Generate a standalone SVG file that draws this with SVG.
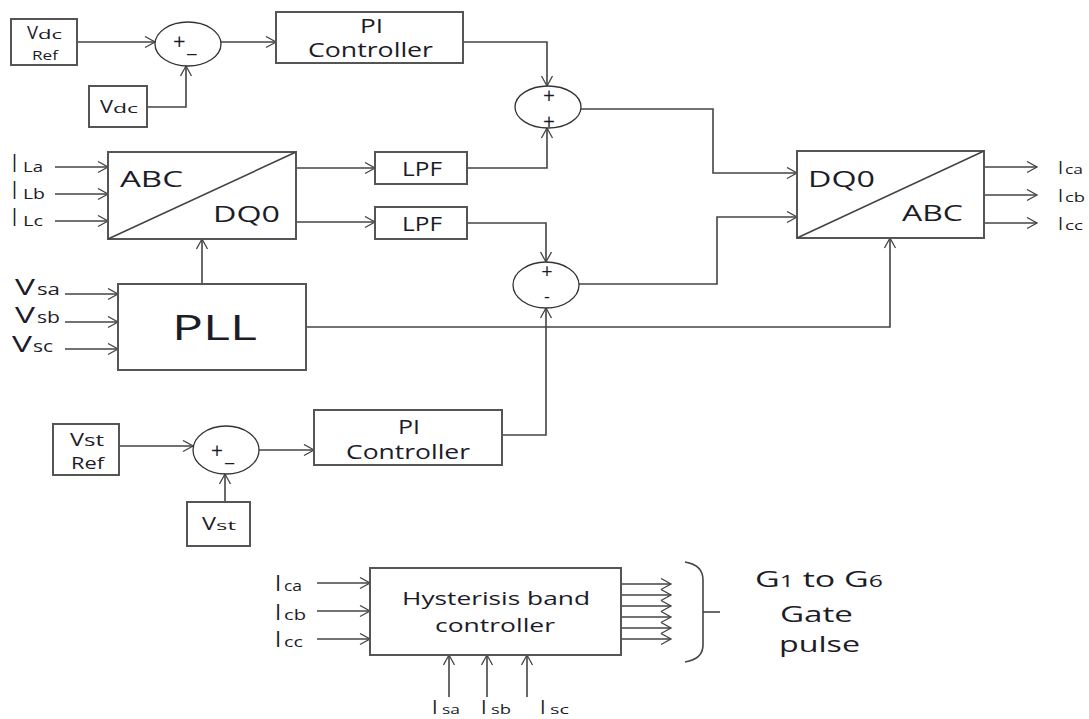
<svg xmlns="http://www.w3.org/2000/svg" width="1089" height="719" viewBox="0 0 1089 719">
<defs>
<marker id="arr" markerUnits="userSpaceOnUse" markerWidth="14" markerHeight="14" refX="11" refY="6" orient="auto">
<path d="M1,0.5 L11,6 L1,11.5" fill="none" stroke="#444" stroke-width="1.3"/>
</marker>
<style>
.bx{fill:#fff;stroke:#555;stroke-width:2}
.el{fill:#fff;stroke:#333;stroke-width:1.3}
.ln{fill:none;stroke:#444;stroke-width:1.6}
.la{fill:none;stroke:#444;stroke-width:1.6;marker-end:url(#arr)}
text{font-family:"Open Sans","Liberation Sans",sans-serif;fill:#1c1c28}
.c{text-anchor:middle}
</style>
</defs>
<rect width="1089" height="719" fill="#fff"/>

<g id="connectors">
<path class="la" d="M77,42 H155"/>
<path class="la" d="M147,107 H186 V66"/>
<path class="la" d="M220,42 H276"/>
<path class="la" d="M463,42 H547 V86"/>
<path class="la" d="M467,168 H547 V128"/>
<path class="la" d="M296,168 H375"/>
<path class="la" d="M296,222 H375"/>
<path class="la" d="M467,223 H546 V262"/>
<path class="la" d="M502,435 H546 V308"/>
<path class="la" d="M202,284 V239"/>
<path class="la" d="M306,327 H890 V238"/>
<path class="la" d="M581,109 H713 V173 H797"/>
<path class="la" d="M579,284 H717 V217 H797"/>
<path class="la" d="M984,167 H1037"/>
<path class="la" d="M984,195 H1037"/>
<path class="la" d="M984,223 H1037"/>
<path class="la" d="M55,167 H108"/>
<path class="la" d="M55,194 H108"/>
<path class="la" d="M55,221 H108"/>
<path class="la" d="M65,294 H118"/>
<path class="la" d="M65,322 H118"/>
<path class="la" d="M65,349 H118"/>
<path class="la" d="M119,446 H193"/>
<path class="la" d="M259,450 H314"/>
<path class="la" d="M225,502 V474"/>
<path class="la" d="M317,583 H370"/>
<path class="la" d="M317,611 H370"/>
<path class="la" d="M317,639 H370"/>
<path class="la" d="M449,697 V655"/>
<path class="la" d="M487,697 V655"/>
<path class="la" d="M527,697 V655"/>
<path class="la" d="M621,584 H671"/>
<path class="la" d="M621,595 H671"/>
<path class="la" d="M621,606 H671"/>
<path class="la" d="M621,617 H671"/>
<path class="la" d="M621,628 H671"/>
<path class="la" d="M621,639 H671"/>
<path class="ln" d="M685,562 Q703,565 703,580 V645 Q703,659 685,662"/>
<path class="ln" d="M703,612 H720"/>
</g>

<g id="vdc_ref">
<rect class="bx" x="11" y="19" width="66" height="46"/>
<text x="27" y="39" font-size="18" textLength="11" lengthAdjust="spacingAndGlyphs">V</text>
<text x="38" y="39" font-size="13" textLength="24" lengthAdjust="spacingAndGlyphs">dc</text>
<text x="32" y="60" font-size="13" textLength="26" lengthAdjust="spacingAndGlyphs">Ref</text>
</g>
<g id="vdc">
<rect class="bx" x="89" y="86" width="58" height="41"/>
<text x="100" y="113" font-size="18" textLength="13" lengthAdjust="spacingAndGlyphs">V</text>
<text x="113" y="113" font-size="13" textLength="25" lengthAdjust="spacingAndGlyphs">dc</text>
</g>
<g id="sum1">
<ellipse class="el" cx="188" cy="44" rx="33" ry="22"/>
<text x="173" y="49" font-size="22">+</text>
<text x="187" y="52" font-size="22">_</text>
</g>
<g id="pi1">
<rect class="bx" x="276" y="12" width="187" height="51"/>
<text x="360" y="33" font-size="20" textLength="23" lengthAdjust="spacingAndGlyphs">PI</text>
<text x="308" y="57" font-size="20" textLength="125" lengthAdjust="spacingAndGlyphs">Controller</text>
</g>
<g id="sum2">
<ellipse class="el" cx="548" cy="107" rx="33" ry="21"/>
<text class="c" x="549" y="103" font-size="21">+</text>
<text class="c" x="549" y="129" font-size="21">+</text>
</g>
<g id="abc_dq0">
<rect class="bx" x="108" y="152" width="188" height="87"/>
<path class="ln" d="M108,239 L296,152"/>
<text x="120" y="187" font-size="21" textLength="63" lengthAdjust="spacingAndGlyphs">ABC</text>
<text x="213" y="222" font-size="21" textLength="67" lengthAdjust="spacingAndGlyphs">DQ0</text>
</g>
<g id="lpf1">
<rect class="bx" x="375" y="152" width="92" height="32"/>
<text x="402" y="176" font-size="20" textLength="40" lengthAdjust="spacingAndGlyphs">LPF</text>
</g>
<g id="lpf2">
<rect class="bx" x="375" y="207" width="92" height="32"/>
<text x="402" y="231" font-size="20" textLength="40" lengthAdjust="spacingAndGlyphs">LPF</text>
</g>
<g id="sum3">
<ellipse class="el" cx="546" cy="285" rx="33" ry="23"/>
<text class="c" x="547" y="278" font-size="20">+</text>
<text class="c" x="547" y="303" font-size="18">-</text>
</g>
<g id="pll">
<rect class="bx" x="118" y="284" width="188" height="86"/>
<text x="172" y="340" font-size="35" textLength="85" lengthAdjust="spacingAndGlyphs">PLL</text>
</g>
<g id="dq0_abc">
<rect class="bx" x="797" y="151" width="187" height="87"/>
<path class="ln" d="M797,238 L984,151"/>
<text x="808" y="187" font-size="21" textLength="67" lengthAdjust="spacingAndGlyphs">DQ0</text>
<text x="902" y="221" font-size="21" textLength="61" lengthAdjust="spacingAndGlyphs">ABC</text>
</g>
<g id="vst_ref">
<rect class="bx" x="53" y="424" width="66" height="51"/>
<text x="70" y="446" font-size="19" textLength="14" lengthAdjust="spacingAndGlyphs">V</text>
<text x="84" y="446" font-size="16" textLength="20" lengthAdjust="spacingAndGlyphs">st</text>
<text x="71" y="469" font-size="17" textLength="33" lengthAdjust="spacingAndGlyphs">Ref</text>
</g>
<g id="sum4">
<ellipse class="el" cx="226" cy="450" rx="33" ry="24"/>
<text x="211" y="458" font-size="21">+</text>
<text x="225" y="461" font-size="21">_</text>
</g>
<g id="vst">
<rect class="bx" x="187" y="502" width="63" height="44"/>
<text x="202" y="530" font-size="19" textLength="14" lengthAdjust="spacingAndGlyphs">V</text>
<text x="216" y="530" font-size="13" textLength="20" lengthAdjust="spacingAndGlyphs">st</text>
</g>
<g id="pi2">
<rect class="bx" x="314" y="410" width="188" height="55"/>
<text x="398" y="434" font-size="20" textLength="22" lengthAdjust="spacingAndGlyphs">PI</text>
<text x="346" y="459" font-size="20" textLength="124" lengthAdjust="spacingAndGlyphs">Controller</text>
</g>
<g id="hysteresis">
<rect class="bx" x="370" y="568" width="251" height="87"/>
<text x="402" y="605" font-size="18" textLength="188" lengthAdjust="spacingAndGlyphs">Hysterisis band</text>
<text x="435" y="632" font-size="18" textLength="120" lengthAdjust="spacingAndGlyphs">controller</text>
</g>

<g id="labels">
<text x="12" y="172" font-size="25" textLength="5" lengthAdjust="spacingAndGlyphs">I</text>
<text x="23" y="172" font-size="15" textLength="20" lengthAdjust="spacingAndGlyphs">La</text>
<text x="12" y="199" font-size="25" textLength="5" lengthAdjust="spacingAndGlyphs">I</text>
<text x="23" y="199" font-size="15" textLength="22" lengthAdjust="spacingAndGlyphs">Lb</text>
<text x="12" y="226" font-size="25" textLength="5" lengthAdjust="spacingAndGlyphs">I</text>
<text x="23" y="226" font-size="15" textLength="20" lengthAdjust="spacingAndGlyphs">Lc</text>
<text x="15" y="295" font-size="21" textLength="20" lengthAdjust="spacingAndGlyphs">V</text>
<text x="37" y="295" font-size="16" textLength="23" lengthAdjust="spacingAndGlyphs">sa</text>
<text x="15" y="323" font-size="21" textLength="20" lengthAdjust="spacingAndGlyphs">V</text>
<text x="37" y="323" font-size="16" textLength="23" lengthAdjust="spacingAndGlyphs">sb</text>
<text x="12" y="352" font-size="21" textLength="20" lengthAdjust="spacingAndGlyphs">V</text>
<text x="33" y="352" font-size="16" textLength="20" lengthAdjust="spacingAndGlyphs">sc</text>
<text x="1058" y="174" font-size="18">I</text>
<text x="1065" y="174" font-size="12" textLength="18" lengthAdjust="spacingAndGlyphs">ca</text>
<text x="1058" y="202" font-size="18">I</text>
<text x="1065" y="202" font-size="12" textLength="20" lengthAdjust="spacingAndGlyphs">cb</text>
<text x="1058" y="230" font-size="18">I</text>
<text x="1065" y="230" font-size="12" textLength="18" lengthAdjust="spacingAndGlyphs">cc</text>
<text x="275" y="591" font-size="22">I</text>
<text x="284" y="591" font-size="14" textLength="18" lengthAdjust="spacingAndGlyphs">ca</text>
<text x="275" y="620" font-size="22">I</text>
<text x="284" y="620" font-size="14" textLength="22" lengthAdjust="spacingAndGlyphs">cb</text>
<text x="275" y="647" font-size="22">I</text>
<text x="284" y="647" font-size="14" textLength="19" lengthAdjust="spacingAndGlyphs">cc</text>
<text x="432" y="714" font-size="20">I</text>
<text x="442" y="714" font-size="13" textLength="18" lengthAdjust="spacingAndGlyphs">sa</text>
<text x="481" y="714" font-size="20">I</text>
<text x="491" y="714" font-size="13" textLength="20" lengthAdjust="spacingAndGlyphs">sb</text>
<text x="540" y="714" font-size="20">I</text>
<text x="550" y="714" font-size="13" textLength="19" lengthAdjust="spacingAndGlyphs">sc</text>
<text x="755" y="587" font-size="22" textLength="128" lengthAdjust="spacingAndGlyphs">G<tspan font-size="16">1</tspan> to G<tspan font-size="16">6</tspan></text>
<text x="780" y="622" font-size="22" textLength="73" lengthAdjust="spacingAndGlyphs">Gate</text>
<text x="779" y="652" font-size="22" textLength="81" lengthAdjust="spacingAndGlyphs">pulse</text>
</g>
</svg>
